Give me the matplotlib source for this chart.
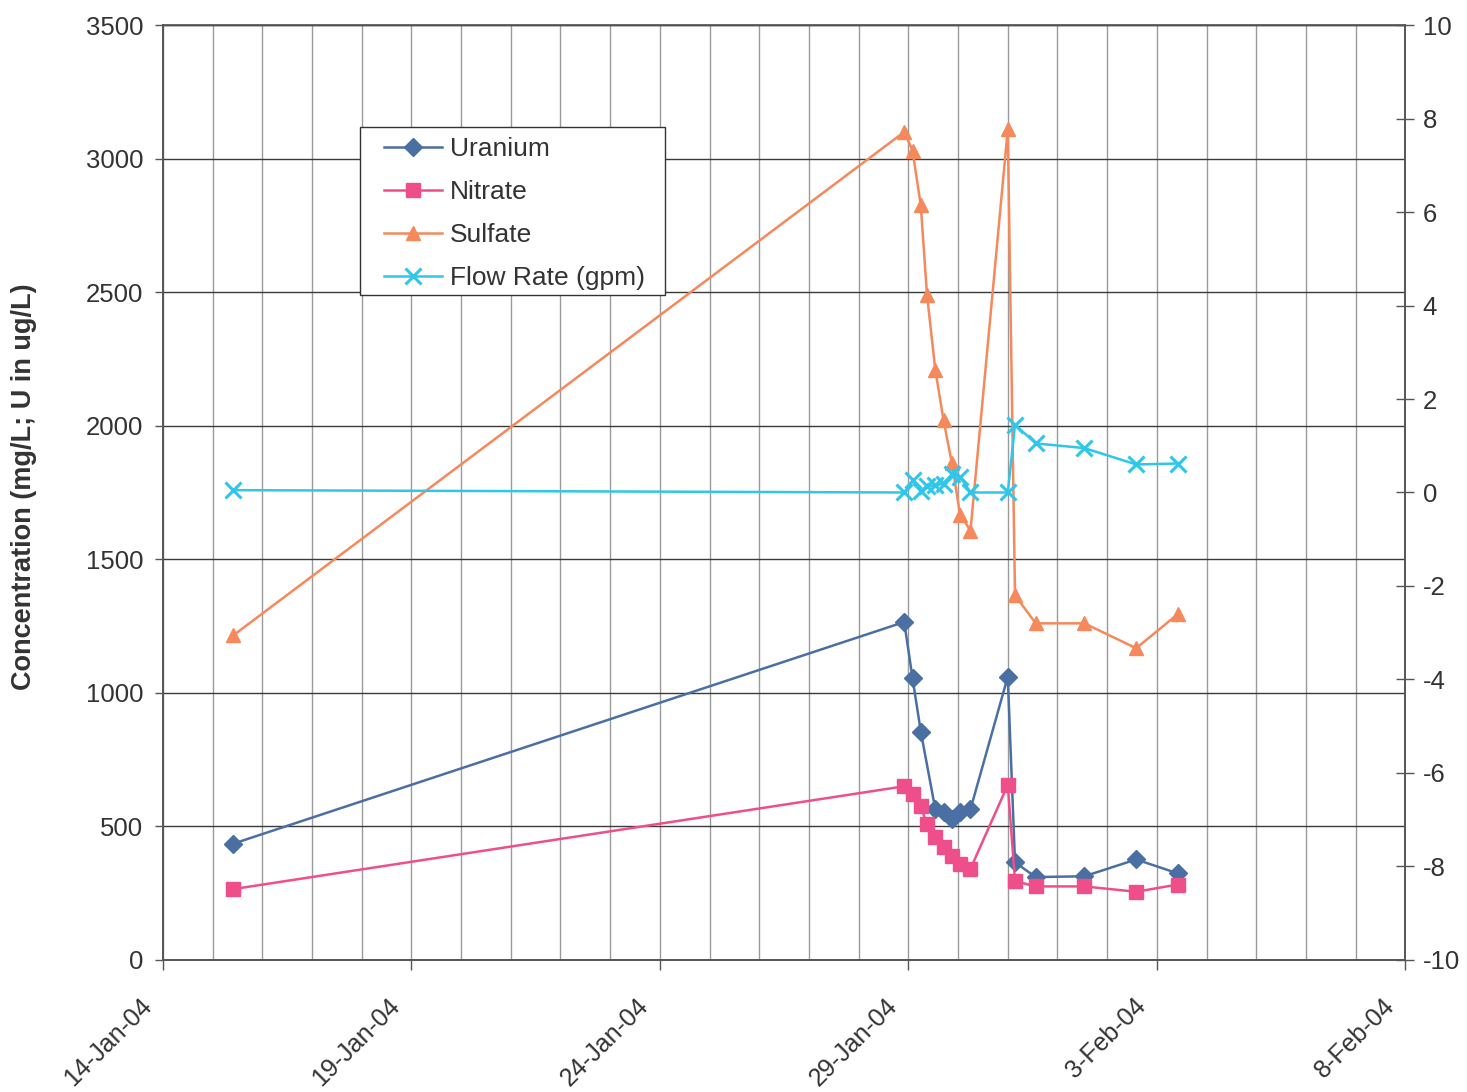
import matplotlib
matplotlib.use('Agg')
import matplotlib.pyplot as plt
import matplotlib.dates as mdates
from matplotlib.ticker import FixedLocator, FuncFormatter, MultipleLocator
from matplotlib.transforms import ScaledTranslation
from matplotlib.patches import Rectangle
import pandas as pd

plt.rcParams['font.family'] = ['Liberation Sans', 'DejaVu Sans']
plt.rcParams['axes.unicode_minus'] = False

# ── data ────────────────────────────────────────────────────────────────────
sample_times = ['2004-01-15 10:00', '2004-01-28 22:00', '2004-01-29 02:00',
                '2004-01-29 06:00', '2004-01-29 09:00', '2004-01-29 13:00',
                '2004-01-29 17:00', '2004-01-29 21:00', '2004-01-30 01:00',
                '2004-01-30 06:00', '2004-01-31 00:00', '2004-01-31 03:30',
                '2004-01-31 13:30', '2004-02-01 13:00', '2004-02-02 14:00',
                '2004-02-03 10:00']
# uranium was not reported for the 09:00 sample on 29-Jan
uranium_times = [t for t in sample_times if t != '2004-01-29 09:00']

uranium = [435, 1265, 1055, 855, 564, 552, 526, 552, 564, 1060, 365, 310,
           313, 376, 324]
nitrate = [265, 650, 620, 575, 507, 460, 423, 390, 360, 341, 655, 295, 275,
           275, 255, 282]
sulfate = [1215, 3100, 3030, 2825, 2490, 2210, 2020, 1860, 1667, 1607, 3110,
           1365, 1260, 1260, 1167, 1294]
flow_rate = [0.05, 0.0, 0.26, 0.04, 0.13, 0.15, 0.19, 0.39, 0.34, 0.0, 0.0,
             1.45, 1.05, 0.95, 0.6, 0.62]

x_start, x_end = '2004-01-14', '2004-02-08'
major_dates = pd.date_range(x_start, x_end, freq='5D')
daily_dates = pd.date_range(x_start, x_end, freq='D')

t_all = pd.to_datetime(sample_times)
t_u = pd.to_datetime(uranium_times)

# ── figure ─────────────────────────────────────────────────────────────────
TXT = '#333333'
fig = plt.figure(figsize=(14.67, 10.92), dpi=100, facecolor='white')
ax = fig.add_axes([0.111, 0.121, 0.847, 0.856])
ax2 = ax.twinx()

ax.plot(t_u, uranium, '-', color='#4a6fa3', lw=1.8, marker='D', ms=9,
        label='Uranium', zorder=3)
ax.plot(t_all, nitrate, '-', color='#ee4f8b', lw=1.8, marker='s', ms=9.5,
        label='Nitrate', zorder=3)
ax.plot(t_all, sulfate, '-', color='#f5895b', lw=1.8, marker='^', ms=10.5,
        label='Sulfate', zorder=3)
ax2.plot(t_all, flow_rate, '-', color='#2fc6ea', lw=1.8, marker='x', ms=11,
         mew=2.2, label='Flow Rate (gpm)', zorder=3)

# axes ranges and ticks
ax.set_xlim(pd.Timestamp(x_start), pd.Timestamp(x_end))
ax.set_ylim(0, 3500)
ax.yaxis.set_major_locator(MultipleLocator(500))
ax2.set_ylim(-10, 10)
ax2.yaxis.set_major_locator(MultipleLocator(2))

ax.xaxis.set_major_locator(FixedLocator(mdates.date2num(major_dates)))
ax.xaxis.set_minor_locator(FixedLocator(mdates.date2num(daily_dates)))
ax.xaxis.set_major_formatter(FuncFormatter(
    lambda v, pos: (lambda d: f"{d.day}-{d:%b-%y}")(mdates.num2date(v))))

ax.grid(True, which='major', axis='y', color='#3a3a3a', lw=1.0, zorder=0)
ax.grid(True, which='both', axis='x', color='#9a9a9a', lw=1.0, zorder=0)
ax.set_axisbelow(True)

ax.tick_params(axis='x', which='major', direction='out', length=7,
               width=1, color='#555555', labelsize=18, labelcolor=TXT, pad=27)
ax.tick_params(axis='x', which='minor', length=0)
ax.tick_params(axis='y', direction='out', length=6, width=1,
               color='#555555', labelsize=18.5, labelcolor=TXT, pad=8)
ax2.tick_params(axis='y', direction='inout', length=13, width=1,
                color='#555555', labelsize=18.5, labelcolor=TXT, pad=6)

shift = ScaledTranslation(-0.10, 0, fig.dpi_scale_trans)
for lbl in ax.get_xticklabels():
    lbl.set_rotation(45)
    lbl.set_ha('right')
    lbl.set_va('baseline')
    lbl.set_rotation_mode('anchor')
    lbl.set_transform(lbl.get_transform() + shift)

for a in (ax, ax2):
    for side in ('left', 'bottom', 'right', 'top'):
        a.spines[side].set_color('#555555')
        a.spines[side].set_linewidth(1.2)
ax.spines['top'].set_color('#3a3a3a')
ax.spines['top'].set_linewidth(1.0)

ax.set_ylabel('Concentration (mg/L; U in ug/L)', fontsize=19.5,
              fontweight='bold', color=TXT)
ax.yaxis.set_label_coords(-0.101, 0.506)

# combined legend: Excel-style box drawn separately so its padding can be
# wider than it is tall
ax2.add_patch(Rectangle((0.1586, 0.7112), 0.2456, 0.1797,
                        transform=ax2.transAxes, facecolor='white',
                        edgecolor='#333333', lw=1.0, zorder=4))
h1, l1 = ax.get_legend_handles_labels()
h2, l2 = ax2.get_legend_handles_labels()
leg = ax2.legend(h1 + h2, l1 + l2, loc='upper left',
                 bbox_to_anchor=(0.178, 0.880), borderaxespad=0,
                 fontsize=19, frameon=False, handlelength=2.2,
                 handletextpad=0.3, labelspacing=0.72, borderpad=0)
leg.set_zorder(5)
for txt in leg.get_texts():
    txt.set_color(TXT)

plt.savefig('out.png', dpi=100, facecolor='white')
plt.close()
